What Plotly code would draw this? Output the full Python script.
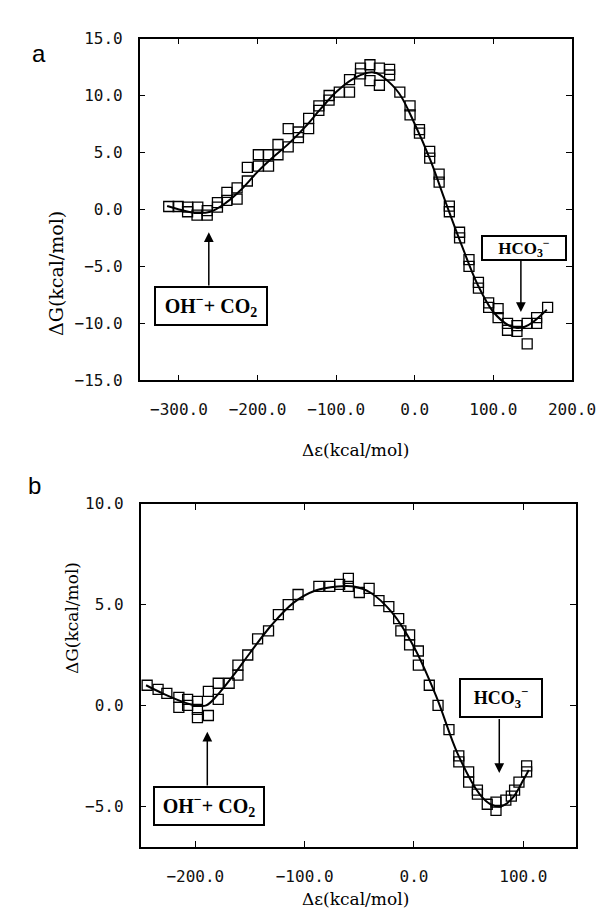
import plotly.graph_objects as go

# ---------------- Panel a data ----------------
a_x = [-313, -301, -289, -289, -277, -276, -264, -264, -251, -251, -239, -239,
       -226, -226, -213, -213, -199, -199, -186, -186, -174, -174, -161, -161,
       -148, -148, -135, -135, -122, -122, -109, -109, -96, -83, -83, -69, -69,
       -57, -57, -45, -45, -32, -32, -19, -6, -6, 6, 6, 19, 19, 31, 31, 44, 44,
       57, 57, 69, 69, 81, 81, 94, 94, 106, 106, 118, 118, 130, 130, 143, 143,
       155, 155, 169]
a_y = [0.26, 0.26, 0.2, -0.2, -0.5, 0.2, -0.1, -0.5, 0.6, 0.2, 1.5, 0.8,
       1.9, 0.9, 2.5, 3.7, 4.8, 3.8, 4.8, 3.8, 5.7, 4.8, 5.5, 7.1,
       6.8, 6.3, 7.1, 8.0, 8.7, 9.1, 10.0, 9.6, 10.3, 10.3, 11.4, 12.4, 11.9,
       12.7, 11.3, 12.4, 10.9, 12.3, 11.8, 10.3, 9.1, 8.3, 7.0, 6.7, 5.1, 4.5, 3.1, 2.4, 0.3, -0.2,
       -2.0, -2.5, -4.4, -5.0, -6.4, -6.9, -8.2, -8.6, -8.7, -9.5, -10.0, -10.6, -10.2, -10.7, -10.0, -11.8,
       -9.5, -10.0, -8.6]
a_fit_x = [-315, -300, -280, -260, -240, -220, -200, -180, -160, -140, -120, -100,
           -80, -60, -50, -40, -20, 0, 20, 40, 60, 80, 100, 120, 130, 140, 150, 168]
a_fit_y = [0.3, 0.0, -0.3, -0.2, 0.6, 1.8, 3.3, 4.6, 5.8, 7.2, 8.8, 10.3,
           11.4, 12.0, 12.0, 11.6, 10.2, 7.5, 4.3, 0.5, -3.2, -6.6, -9.0, -10.2, -10.4, -10.3, -9.9, -8.8]
a_xticks = [-300, -200, -100, 0, 100, 200]
a_yticks = [-15, -10, -5, 0, 5, 10, 15]

# ---------------- Panel b data ----------------
b_x = [-244, -234, -226, -215, -215, -207, -207, -198, -198, -198, -188, -188,
       -179, -179, -169, -161, -161, -152, -143, -133, -124, -115, -106, -87,
       -77, -68, -60, -60, -50, -41, -32, -23, -14, -12, -4, -4, 4, 4, 14, 22,
       32, 41, 41, 50, 50, 58, 58, 67, 75, 75, 84, 89, 92, 96, 103, 103]
b_y = [1.0, 0.8, 0.6, 0.4, -0.1, 0.3, 0.0, 0.2, -0.6, -0.2, -0.5, 0.7,
       0.3, 1.1, 1.1, 2.0, 1.5, 2.5, 3.3, 3.7, 4.5, 5.0, 5.5, 5.9,
       5.9, 6.0, 6.3, 5.9, 5.6, 5.8, 5.2, 4.9, 4.3, 3.7, 3.5, 3.0, 2.7, 2.0, 1.0, 0.0,
       -1.2, -2.5, -2.8, -3.3, -3.8, -4.4, -4.2, -4.9, -5.2, -4.8, -4.7, -4.5, -4.2, -3.8, -3.0, -3.3]
b_fit_x = [-245, -230, -210, -200, -190, -180, -165, -150, -130, -110, -90, -70,
           -55, -40, -20, 0, 20, 40, 60, 70, 80, 90, 100, 105]
b_fit_y = [1.0, 0.6, 0.15, 0.0, 0.0, 0.5, 1.5, 2.6, 4.0, 5.1, 5.7, 5.9,
           5.9, 5.6, 4.6, 2.9, 0.5, -2.4, -4.4, -4.9, -5.0, -4.6, -3.7, -3.2]
b_xticks = [-200, -100, 0, 100]
b_yticks = [-5, 0, 5, 10]

W, H = 612, 924

fig = go.Figure()
mk = dict(symbol='square-open', size=10, color='black', line=dict(width=1.3, color='black'))
fig.add_trace(go.Scatter(x=a_x, y=a_y, mode='markers', marker=mk, xaxis='x', yaxis='y'))
fig.add_trace(go.Scatter(x=a_fit_x, y=a_fit_y, mode='lines',
                         line=dict(color='black', width=2, shape='spline', smoothing=1.0),
                         xaxis='x', yaxis='y'))
fig.add_trace(go.Scatter(x=b_x, y=b_y, mode='markers', marker=mk, xaxis='x2', yaxis='y2'))
fig.add_trace(go.Scatter(x=b_fit_x, y=b_fit_y, mode='lines',
                         line=dict(color='black', width=2, shape='spline', smoothing=1.0),
                         xaxis='x2', yaxis='y2'))

tickfont = dict(family='DejaVu Sans Mono', size=16, color='#111')
common = dict(showline=True, linecolor='black', linewidth=1.5, mirror='ticks',
              ticks='inside', ticklen=6, tickwidth=1.2, tickcolor='black',
              showgrid=False, zeroline=False, tickformat='.1f', tickfont=tickfont)

fig.update_layout(
    width=W, height=H, margin=dict(l=0, r=0, t=0, b=0),
    paper_bgcolor='white', plot_bgcolor='white', showlegend=False,
    xaxis=dict(domain=[137 / W, 587 / W], range=[-350, 200], tickvals=a_xticks,
               anchor='y', ticklabelstandoff=14, **common),
    yaxis=dict(domain=[1 - 371 / H, 1 - 22 / H], range=[-15, 15], tickvals=a_yticks,
               anchor='x', ticklabelstandoff=12, **common),
    xaxis2=dict(domain=[138 / W, 591 / W], range=[-250, 148], tickvals=b_xticks,
                anchor='y2', ticklabelstandoff=14, **common),
    yaxis2=dict(domain=[1 - 847 / H, 1 - 497 / H], range=[-7, 10], tickvals=b_yticks,
                anchor='x2', ticklabelstandoff=12, **common),
)

ann = []
# panel letters
ann.append(dict(text='a', x=23 / W, y=1 - 21 / H, xref='paper', yref='paper', showarrow=False,
                font=dict(family='Liberation Sans', size=24, color='black')))
ann.append(dict(text='b', x=19 / W, y=1 - 478 / H, xref='paper', yref='paper', showarrow=False,
                font=dict(family='Liberation Sans', size=24, color='black')))

# axis titles
ann.append(dict(text='ΔG(kcal/mol)', x=37 / W, y=1 - 196 / H, xref='paper', yref='paper',
                textangle=-90, showarrow=False,
                font=dict(family='DejaVu Serif', size=19, color='black')))
ann.append(dict(text='Δε(kcal/mol)', x=362 / W, y=1 - 442 / H, xref='paper', yref='paper',
                showarrow=False, font=dict(family='DejaVu Serif', size=17, color='black')))
ann.append(dict(text='ΔG(kcal/mol)', x=54 / W, y=1 - 673 / H, xref='paper', yref='paper',
                textangle=-90, showarrow=False,
                font=dict(family='DejaVu Serif', size=17, color='black')))
ann.append(dict(text='Δε(kcal/mol)', x=362 / W, y=1 - 913 / H, xref='paper', yref='paper',
                showarrow=False, font=dict(family='DejaVu Serif', size=17, color='black')))

boxfont = dict(family='Liberation Serif', size=20, color='black', weight='bold')
oh = 'OH<sup>−</sup>+ CO<sub>2</sub>'
hco = 'HCO<sub>3</sub><sup>−</sup>'

def box(text, xr, yr, x, y, w, h, size):
    f = dict(boxfont)
    f['size'] = size
    return dict(text=text, x=x, y=y, xref=xr, yref=yr, showarrow=False, width=w, height=h,
                bordercolor='black', borderwidth=2, borderpad=1, bgcolor='white', font=f,
                align='center', valign='middle')

def arrow(xr, yr, x, y0, y1):
    return dict(text='', x=x, y=y1, ax=x, ay=y0, xref=xr, yref=yr, axref=xr, ayref=yr,
                showarrow=True, arrowhead=2, arrowsize=1.3, arrowwidth=1.5, arrowcolor='black',
                standoff=0, startstandoff=0)

# panel a
ann.append(box(oh, 'x', 'y', -259, -8.45, 108, 34, 20))
ann.append(arrow('x', 'y', -262, -6.8, -2.0))
ann.append(box(hco, 'x', 'y', 139, -3.4, 80, 20, 17))
ann.append(arrow('x', 'y', 135, -4.4, -9.0))
# panel b
ann.append(box(oh, 'x2', 'y2', -187, -5.0, 106, 34, 20))
ann.append(arrow('x2', 'y2', -189, -4.05, -1.3))
ann.append(box(hco, 'x2', 'y2', 80, 0.35, 78, 34, 18))
ann.append(arrow('x2', 'y2', 78, -0.6, -3.35))

fig.update_layout(annotations=ann)
fig.write_html('out.html')
